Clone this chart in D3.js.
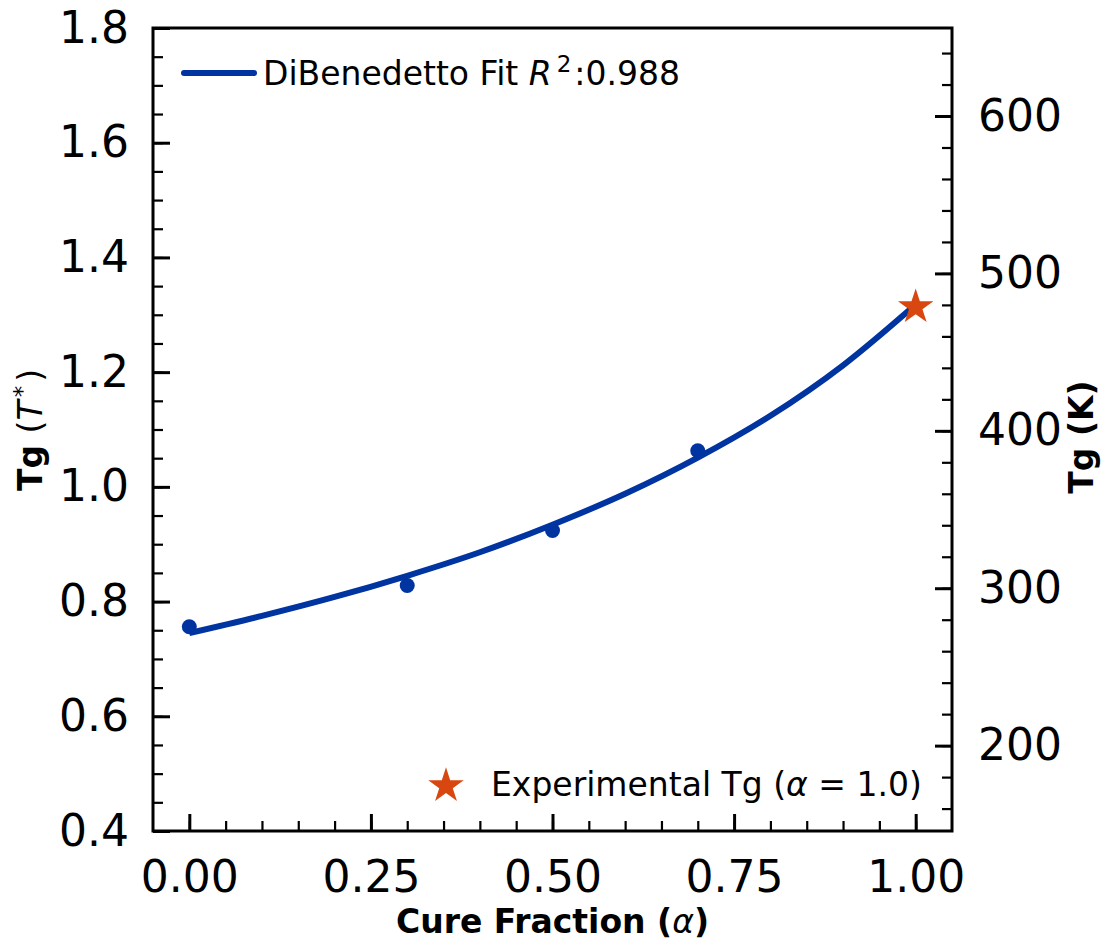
<!DOCTYPE html>
<html>
<head>
<meta charset="utf-8">
<script src="https://cdn.jsdelivr.net/npm/d3@7"></script>
<style>
  html, body { margin: 0; padding: 0; background: #fff; }
  svg { display: block; font-family: "DejaVu Sans", sans-serif; }
</style>
</head>
<body>
<svg id="chart" width="1107" height="940"></svg>
<script>
// measured points (reduced Tg vs cure fraction)
const cureFrac = [0.0, 0.3, 0.5, 0.7];
const tgReduced = [0.756, 0.828, 0.924, 1.063];

// DiBenedetto fit
const fitAlpha = [0.0, 0.1, 0.2, 0.3, 0.4, 0.5, 0.6, 0.7, 0.8, 0.9, 1.0];
const fitTg = [0.745, 0.775, 0.808, 0.845, 0.886, 0.934, 0.988, 1.051, 1.124, 1.212, 1.318];

// experimental Tg at full cure
const expAlpha = [1.0];
const expTg = [1.317];

const xTicks = [0.0, 0.25, 0.5, 0.75, 1.0];
const yTicks = [0.4, 0.6, 0.8, 1.0, 1.2, 1.4, 1.6, 1.8];
const kTicks = [200, 300, 400, 500, 600];
const T_SCALE = 364.4; // K per reduced unit

const BLUE = '#0034a1';
const STAR = '#d8470f';

const M = { left: 153, right: 952, top: 28, bottom: 831 };

const svg = d3.select('#chart');

const x = d3.scaleLinear().domain([-0.05, 1.05]).range([M.left, M.right]);
const y = d3.scaleLinear().domain([0.4, 1.8]).range([M.bottom, M.top]);
const yK = d3.scaleLinear().domain([0.4 * T_SCALE, 1.8 * T_SCALE]).range([M.bottom, M.top]);

// =========================================
// AXES
// =========================================

const styleAxis = (g, fontSize) => {
    g.select('.domain').remove();
    g.selectAll('.tick line').attr('stroke', '#000');
    g.selectAll('text')
        .attr('fill', '#000')
        .style('font-size', fontSize + 'px')
        .style('font-family', '"DejaVu Sans", sans-serif');
};

// minor ticks first
svg.append('g')
    .attr('transform', `translate(0,${M.bottom})`)
    .call(d3.axisBottom(x).tickValues(d3.range(0, 21).map(i => i * 0.05)).tickSize(-10).tickFormat(''))
    .call(g => styleAxis(g, 44))
    .selectAll('.tick line').attr('stroke-width', 2.2);

svg.append('g')
    .attr('transform', `translate(${M.left},0)`)
    .call(d3.axisLeft(y).tickValues(d3.range(0, 29).map(i => 0.4 + i * 0.05)).tickSize(-10).tickFormat(''))
    .call(g => styleAxis(g, 44))
    .selectAll('.tick line').attr('stroke-width', 2.2);

svg.append('g')
    .attr('transform', `translate(${M.right},0)`)
    .call(d3.axisRight(yK).tickValues(d3.range(160, 660, 20)).tickSize(-10).tickFormat(''))
    .call(g => styleAxis(g, 44))
    .selectAll('.tick line').attr('stroke-width', 2.2);

// major ticks with labels
svg.append('g')
    .attr('transform', `translate(0,${M.bottom})`)
    .call(d3.axisBottom(x).tickValues(xTicks).tickSize(-17).tickPadding(30).tickFormat(d3.format('.2f')))
    .call(g => styleAxis(g, 44))
    .selectAll('.tick line').attr('stroke-width', 3);

svg.append('g')
    .attr('transform', `translate(${M.left},0)`)
    .call(d3.axisLeft(y).tickValues(yTicks).tickSize(-17).tickPadding(24).tickFormat(d3.format('.1f')))
    .call(g => styleAxis(g, 44))
    .selectAll('.tick line').attr('stroke-width', 3);

svg.append('g')
    .attr('transform', `translate(${M.right},0)`)
    .call(d3.axisRight(yK).tickValues(kTicks).tickSize(-17).tickPadding(26).tickFormat(d3.format('d')))
    .call(g => styleAxis(g, 44))
    .selectAll('.tick line').attr('stroke-width', 3);

// frame
svg.append('rect')
    .attr('x', M.left).attr('y', M.top)
    .attr('width', M.right - M.left).attr('height', M.bottom - M.top)
    .attr('fill', 'none').attr('stroke', '#000').attr('stroke-width', 3);

// =========================================
// DATA
// =========================================

svg.append('g').selectAll('circle')
    .data(cureFrac.map((a, i) => [a, tgReduced[i]]))
    .join('circle')
    .attr('cx', d => x(d[0]))
    .attr('cy', d => y(d[1]))
    .attr('r', 7.5)
    .attr('fill', BLUE);

const line = d3.line()
    .x(d => x(d[0]))
    .y(d => y(d[1]))
    .curve(d3.curveMonotoneX);

svg.append('path')
    .datum(fitAlpha.map((a, i) => [a, fitTg[i]]))
    .attr('d', line)
    .attr('fill', 'none')
    .attr('stroke', BLUE)
    .attr('stroke-width', 6);

const star = d3.symbol().type(d3.symbolStar).size(390);

svg.append('g').selectAll('path')
    .data(expAlpha.map((a, i) => [a, expTg[i]]))
    .join('path')
    .attr('d', star)
    .attr('transform', d => `translate(${x(d[0])},${y(d[1]) + 2})`)
    .attr('fill', STAR);

// =========================================
// LABELS
// =========================================

const xl = svg.append('text')
    .attr('x', (M.left + M.right) / 2)
    .attr('y', 933)
    .attr('text-anchor', 'middle')
    .style('font-size', '33px')
    .style('font-weight', 'bold');
xl.append('tspan').text('Cure Fraction (');
xl.append('tspan').style('font-style', 'italic').style('font-weight', 'normal').text('α');
xl.append('tspan').text(')');

const yl = svg.append('text')
    .attr('transform', `translate(42,430) rotate(-90)`)
    .attr('text-anchor', 'middle')
    .style('font-size', '33px');
yl.append('tspan').style('font-weight', 'bold').text('Tg ');
yl.append('tspan').text('(');
yl.append('tspan').style('font-style', 'italic').text('T');
yl.append('tspan').attr('dx', 3).attr('dy', -12).style('font-size', '23px').text('*');
yl.append('tspan').attr('dx', 4).attr('dy', 12).text(')');

svg.append('text')
    .attr('transform', `translate(1093,437) rotate(-90)`)
    .attr('text-anchor', 'middle')
    .style('font-size', '33px')
    .style('font-weight', 'bold')
    .text('Tg (K)');

// =========================================
// LEGENDS
// =========================================

svg.append('line')
    .attr('x1', 184).attr('x2', 254)
    .attr('y1', 73).attr('y2', 73)
    .attr('stroke', BLUE)
    .attr('stroke-width', 6)
    .attr('stroke-linecap', 'round');

const lt = svg.append('text')
    .attr('x', 263).attr('y', 85)
    .style('font-size', '33px');
lt.append('tspan').text('DiBenedetto Fit ');
lt.append('tspan').style('font-style', 'italic').text('R');
lt.append('tspan').attr('dx', 5).attr('dy', -13).style('font-size', '23px').text('2');
lt.append('tspan').attr('dx', 3).attr('dy', 13).text(':0.988');

svg.append('path')
    .attr('d', star)
    .attr('transform', 'translate(446,786)')
    .attr('fill', STAR);

const lt2 = svg.append('text')
    .attr('x', 491).attr('y', 796)
    .style('font-size', '33px');
lt2.append('tspan').text('Experimental Tg (');
lt2.append('tspan').style('font-style', 'italic').text('α');
lt2.append('tspan').text(' = 1.0)');
</script>
</body>
</html>
